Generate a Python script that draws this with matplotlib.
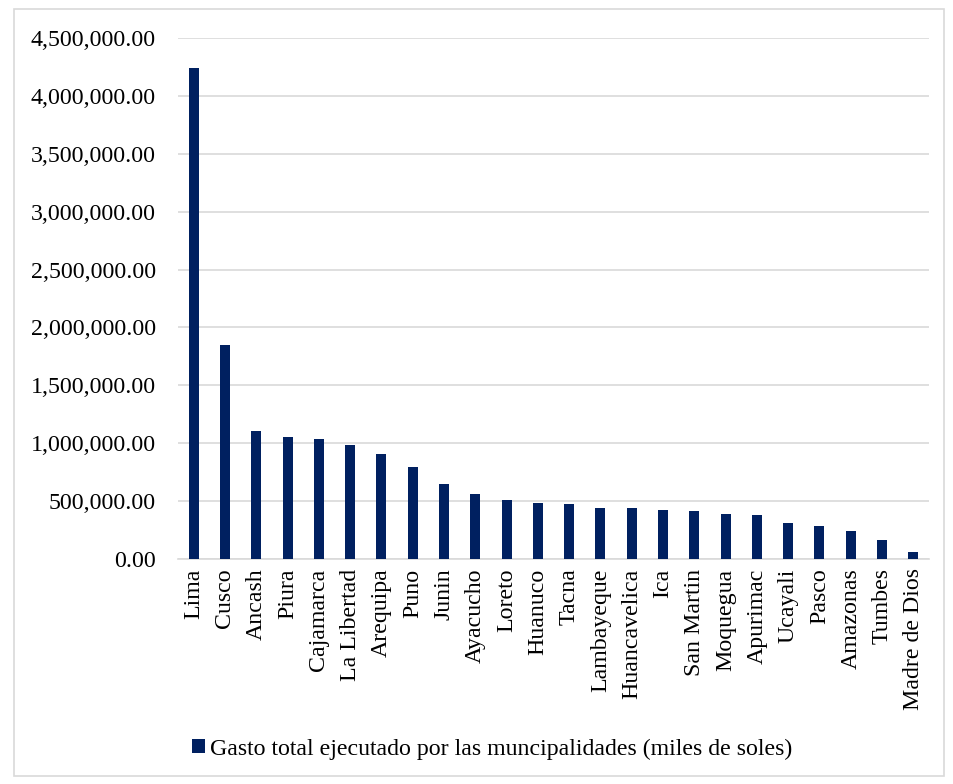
import matplotlib
matplotlib.use("Agg")
import matplotlib.pyplot as plt
from matplotlib.patches import Rectangle
from matplotlib.ticker import FuncFormatter, MultipleLocator

categories = ["Lima", "Cusco", "Ancash", "Piura", "Cajamarca", "La Libertad", "Arequipa",
              "Puno", "Junin", "Ayacucho", "Loreto", "Huanuco", "Tacna", "Lambayeque",
              "Huancavelica", "Ica", "San Martin", "Moquegua", "Apurimac", "Ucayali",
              "Pasco", "Amazonas", "Tumbes", "Madre de Dios"]
values = [4245000, 1844000, 1107000, 1055000, 1035000, 983000, 902000,
          795000, 649000, 559000, 511000, 485000, 473000, 442000,
          436000, 425000, 412000, 387000, 381000, 309000,
          286000, 243000, 159000, 55000]
series_name = "Gasto total ejecutado por las muncipalidades (miles de soles)"

plt.rcParams['font.family'] = ['Liberation Serif', 'DejaVu Serif']
FS = 17.2

W, H = 954, 784
fig = plt.figure(figsize=(W / 100, H / 100), dpi=100)
ax = fig.add_axes([178 / W, 1 - 558.7 / H, (929 - 178) / W, (558.7 - 38.3) / H])

x = list(range(len(categories)))
ax.bar(x, values, width=0.32, color='#002060', zorder=3, label=series_name)
ax.set_xlim(-0.5, len(categories) - 0.5)
ax.set_ylim(0, 4500000)
ax.yaxis.set_major_locator(MultipleLocator(500000))
ax.yaxis.set_major_formatter(FuncFormatter(lambda v, p: f"{v:,.2f}"))
ax.set_xticks(x)
ax.set_xticklabels(categories, rotation=90, fontsize=FS)
ax.tick_params(axis='y', labelsize=FS, length=0, pad=16)
ax.tick_params(axis='x', length=0, pad=7)
ax.grid(axis='y', color='#d9d9d9', linewidth=1.2, zorder=0)
for s in ['top', 'right', 'left']:
    ax.spines[s].set_visible(False)
ax.spines['bottom'].set_color('#d9d9d9')
ax.spines['bottom'].set_linewidth(1.2)

fig.legend(handles=ax.get_legend_handles_labels()[0], labels=[series_name],
           loc='center', bbox_to_anchor=(492 / W, 1 - 749 / H), frameon=False,
           fontsize=FS, handlelength=0.55, handleheight=0.55, handletextpad=0.2)

fig.patches.append(Rectangle((14 / W, 1 - 776 / H), (944 - 14) / W, (776 - 9) / H,
                             transform=fig.transFigure, fill=False,
                             edgecolor='#d9d9d9', linewidth=1.2))

fig.savefig("out.png", dpi=100)
